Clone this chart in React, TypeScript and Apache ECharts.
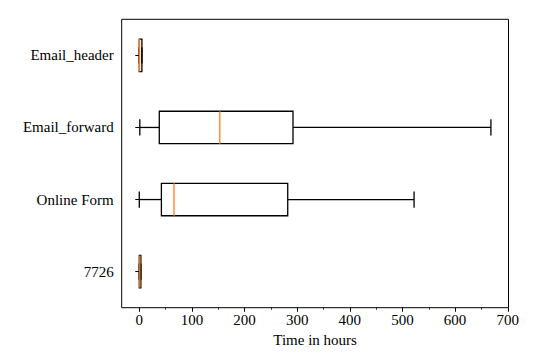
import React, { useEffect, useRef } from "react";
import * as echarts from "echarts";

const categories = ["7726", "Online Form", "Email_forward", "Email_header"];
const minValues = [0, 0, 1, 0];
const q1Values = [0, 42, 38, 0];
const medianValues = [1, 66, 153, 0.5];
const q3Values = [3, 282, 292, 5];
const maxValues = [3, 522, 668, 5];
const majorTicks = [0, 100, 200, 300, 400, 500, 600, 700];
const minorTicks = [50, 150, 250, 350, 450, 550, 650];
const xTitle = "Time in hours";

const FONT = "Liberation Serif";
const X_MIN = -33.4;
const X_MAX = 701.4;

export default function App() {
  const ref = useRef<HTMLDivElement>(null);
  useEffect(() => {
    if (!ref.current) return;
    const chart = echarts.init(ref.current, null, { renderer: "svg" });
    const data = categories.map((_, i) => [
      i,
      minValues[i],
      q1Values[i],
      medianValues[i],
      q3Values[i],
      maxValues[i],
    ]);
    const lw = 1.3;
    chart.setOption({
      animation: false,
      backgroundColor: "#fff",
      textStyle: { fontFamily: FONT },
      grid: {
        left: 121.7,
        right: 36.5,
        top: 19.3,
        bottom: 51.3,
        show: true,
        borderColor: "#000",
        borderWidth: 1,
        backgroundColor: "transparent",
      },
      xAxis: [
        {
          type: "value",
          min: X_MIN,
          max: X_MAX,
          position: "bottom",
          name: xTitle,
          nameLocation: "middle",
          nameGap: 21,
          nameTextStyle: { color: "#000", fontSize: 15, fontFamily: FONT },
          axisLine: { show: false },
          splitLine: { show: false },
          axisTick: {
            show: true,
            inside: false,
            length: 4,
            customValues: majorTicks,
            lineStyle: { color: "#000", width: 1 },
          },
          axisLabel: {
            show: true,
            customValues: majorTicks,
            margin: 5,
            color: "#000",
            fontSize: 15,
            fontFamily: FONT,
          },
        },
        {
          type: "value",
          min: X_MIN,
          max: X_MAX,
          position: "bottom",
          axisLine: { show: false },
          splitLine: { show: false },
          axisLabel: { show: false, customValues: minorTicks },
          axisTick: {
            show: true,
            inside: false,
            length: 2,
            customValues: minorTicks,
            lineStyle: { color: "#000", width: 0.8 },
          },
        },
      ],
      yAxis: {
        type: "category",
        data: categories,
        boundaryGap: true,
        axisLine: { show: false },
        splitLine: { show: false },
        axisTick: {
          show: true,
          alignWithLabel: true,
          length: 4,
          inside: false,
          lineStyle: { color: "#000", width: 1 },
        },
        axisLabel: {
          margin: 8,
          color: "#000",
          fontSize: 15,
          fontFamily: FONT,
        },
      },
      series: [
        {
          type: "custom",
          xAxisIndex: 0,
          yAxisIndex: 0,
          encode: { x: [1, 2, 3, 4, 5], y: 0 },
          data,
          renderItem: (params: any, api: any) => {
            const cat = api.value(0);
            const pMin = api.coord([api.value(1), cat]);
            const pQ1 = api.coord([api.value(2), cat]);
            const pMed = api.coord([api.value(3), cat]);
            const pQ3 = api.coord([api.value(4), cat]);
            const pMax = api.coord([api.value(5), cat]);
            const band = api.size([0, 1])[1];
            const half = (band * 0.45) / 2;
            const cap = half / 2;
            const y = pMin[1];
            const ls = { stroke: "#000", lineWidth: lw, fill: null };
            return {
              type: "group",
              children: [
                { type: "line", shape: { x1: pMin[0], y1: y, x2: pQ1[0], y2: y }, style: ls },
                { type: "line", shape: { x1: pQ3[0], y1: y, x2: pMax[0], y2: y }, style: ls },
                { type: "line", shape: { x1: pMin[0], y1: y - cap, x2: pMin[0], y2: y + cap }, style: ls },
                { type: "line", shape: { x1: pMax[0], y1: y - cap, x2: pMax[0], y2: y + cap }, style: ls },
                {
                  type: "rect",
                  shape: { x: pQ1[0], y: y - half, width: pQ3[0] - pQ1[0], height: half * 2 },
                  style: { stroke: "#000", lineWidth: lw, fill: "none" },
                },
                {
                  type: "line",
                  shape: { x1: pMed[0], y1: y - half, x2: pMed[0], y2: y + half },
                  style: { stroke: "#ff7f0e", lineWidth: lw },
                },
              ],
            };
          },
        },
      ],
    });
    return () => chart.dispose();
  }, []);
  return (
    <div
      ref={ref}
      style={{ position: "fixed", left: 0, top: 0, width: 545, height: 359 }}
    />
  );
}
